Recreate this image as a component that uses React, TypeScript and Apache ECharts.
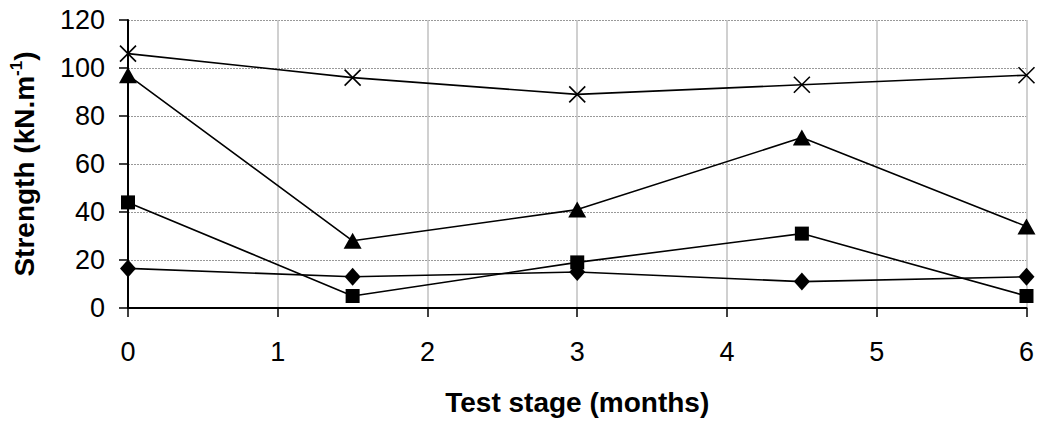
import React, { useEffect, useRef } from "react";
import * as echarts from "echarts";

const months = [0, 1.5, 3, 4.5, 6];
const seriesCross = [106, 96, 89, 93, 97];
const seriesTriangle = [97, 28, 41, 71, 34];
const seriesSquare = [44, 5, 19, 31, 5];
const seriesDiamond = [16.5, 13, 15, 11, 13];

const crossPath = "path://M0,0L10,10M10,0L0,10";
const FONT = "Liberation Sans, Arial, sans-serif";

export default function App() {
  const ref = useRef<HTMLDivElement>(null);
  useEffect(() => {
    if (!ref.current) return;
    const chart = echarts.init(ref.current, undefined, { renderer: "svg" });
    const mk = (vals: number[]) => months.map((m, i) => [m, vals[i]]);
    const base = {
      type: "line",
      lineStyle: { color: "#000", width: 1.6 },
      z: 3,
    };
    chart.setOption({
      animation: false,
      backgroundColor: "#fff",
      textStyle: { fontFamily: FONT },
      grid: { left: 127, right: 9, top: 20, bottom: 110, containLabel: false },
      xAxis: {
        type: "value",
        min: 0,
        max: 6,
        interval: 1,
        name: "Test stage (months)",
        nameLocation: "middle",
        nameGap: 80,
        nameTextStyle: { fontSize: 28, fontWeight: "bold", color: "#000", fontFamily: FONT },
        axisLine: { show: true, onZero: false, lineStyle: { color: "#000", width: 2 } },
        axisTick: { show: true, length: 9, inside: false, lineStyle: { color: "#000", width: 1.5 } },
        axisLabel: { fontSize: 27, color: "#000", margin: 30 },
        splitLine: { show: true, lineStyle: { color: "#c0c0c0", width: 1.5, type: "solid" } },
      },
      yAxis: {
        type: "value",
        min: 0,
        max: 120,
        interval: 20,
        name: "{a|Strength (kN.m}{s|-1}{a|)}",
        nameLocation: "middle",
        nameGap: 87,
        nameRotate: 90,
        nameTextStyle: {
          rich: {
            a: { fontSize: 28, fontWeight: "bold", color: "#000", fontFamily: FONT },
            s: { fontSize: 17, fontWeight: "bold", color: "#000", verticalAlign: "top", padding: [0, 0, 16, 0], fontFamily: FONT },
          },
        },
        axisLine: { show: true, lineStyle: { color: "#000", width: 2 } },
        axisTick: { show: true, length: 9, inside: false, lineStyle: { color: "#000", width: 1.5 } },
        axisLabel: { fontSize: 27, color: "#000", margin: 23 },
        splitLine: { show: true, lineStyle: { color: "#999", width: 1, type: [2, 1] } },
      },
      series: [
        {
          ...base,
          name: "cross",
          data: mk(seriesCross),
          symbol: crossPath,
          symbolSize: 16,
          itemStyle: { color: "rgba(0,0,0,0)", borderColor: "#000", borderWidth: 1.6 },
        },
        {
          ...base,
          name: "triangle",
          data: mk(seriesTriangle),
          symbol: "triangle",
          symbolSize: [18, 16],
          itemStyle: { color: "#000" },
        },
        {
          ...base,
          name: "square",
          data: mk(seriesSquare),
          symbol: "rect",
          symbolSize: 14,
          itemStyle: { color: "#000" },
        },
        {
          ...base,
          name: "diamond",
          data: mk(seriesDiamond),
          symbol: "diamond",
          symbolSize: [16, 18],
          itemStyle: { color: "#000" },
        },
      ],
    });
    return () => chart.dispose();
  }, []);
  return <div ref={ref} style={{ width: 1037, height: 421, position: "absolute", left: 0, top: 0 }} />;
}
